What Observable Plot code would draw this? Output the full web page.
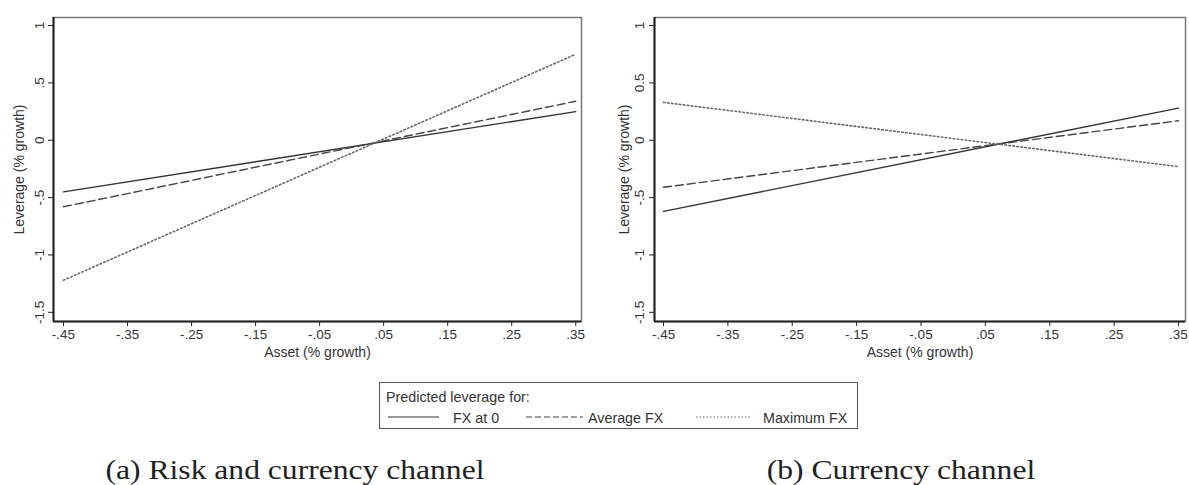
<!DOCTYPE html>
<html>
<head>
<meta charset="utf-8">
<script src="https://cdn.jsdelivr.net/npm/d3@7"></script>
<script src="https://cdn.jsdelivr.net/npm/@observablehq/plot@0.6"></script>
<style>
  html, body { margin: 0; padding: 0; background: #fff; }
  #wrap { position: relative; width: 1189px; height: 485px; overflow: hidden; font-family: "Liberation Sans", Arial, sans-serif; }
  .panel { position: absolute; top: 0; }
  .legend { position: absolute; left: 379px; top: 382px; width: 477px; height: 45px; border: 1px solid #555; box-sizing: content-box; font-size: 14.3px; color: #333; }
  .legend .item { position: absolute; top: 27px; line-height: 16px; }
  .legend svg { position: absolute; }
  .caption { position: absolute; top: 455px; font-family: "Liberation Serif", "Times New Roman", serif; font-size: 27px; color: #222; white-space: nowrap; text-align: center; transform: scaleX(1.17); transform-origin: 50% 50%; }
</style>
</head>
<body>
<div id="wrap"></div>
<script>
// ---- data ----
const assetX = [-0.45, 0.35];
const seriesNames = ["FX at 0", "Average FX", "Maximum FX"];
// Panel (a): Risk and currency channel
const panelA_fx0 = [-0.45, 0.25];
const panelA_avg = [-0.58, 0.34];
const panelA_max = [-1.22, 0.75];
// Panel (b): Currency channel
const panelB_fx0 = [-0.62, 0.28];
const panelB_avg = [-0.41, 0.17];
const panelB_max = [0.33, -0.23];

const xTicks = [-0.45, -0.35, -0.25, -0.15, -0.05, 0.05, 0.15, 0.25, 0.35];
const xTickLabels = ["-.45", "-.35", "-.25", "-.15", "-.05", ".05", ".15", ".25", ".35"];
const yTicks = [-1.5, -1, -0.5, 0, 0.5, 1];
const yTickLabelsA = ["-1.5", "-1", "-.5", "0", ".5", "1"];
const yTickLabelsB = ["-1.5", "-1", "-.5", "0", "0.5", "1"];
const captions = ["(a) Risk and currency channel", "(b) Currency channel"];

const styles = {
  "FX at 0": {stroke: "#333", strokeWidth: 1.4, dash: null, legDash: null},
  "Average FX": {stroke: "#444", strokeWidth: 1.4, dash: "8,4", legDash: "6,3"},
  "Maximum FX": {stroke: "#666", strokeWidth: 1.6, dash: "1.5,2.5", legDash: "1.5,2"}
};

function rows(vals) {
  const out = [];
  seriesNames.forEach((s, i) => {
    vals[i].forEach((v, j) => out.push({series: s, x: assetX[j], y: v}));
  });
  return out;
}

function panel({data, yLabels, width, marginLeft, marginRight, xDomain, yTickDx, yLabelDx}) {
  const yDomain = [-1.58, 1.07];
  const marks = [
    Plot.frame({stroke: "#777", strokeWidth: 1.5}),
    ...seriesNames.map(s => Plot.line(data.filter(d => d.series === s), {
      x: "x", y: "y", stroke: styles[s].stroke, strokeWidth: styles[s].strokeWidth,
      strokeDasharray: styles[s].dash
    })),
    Plot.ruleX([xDomain[0]], {stroke: "#222", strokeWidth: 2}),
    Plot.ruleY([yDomain[0]], {stroke: "#222", strokeWidth: 2}),
    Plot.axisX(xTicks, {tickSize: 5, tickPadding: 3, stroke: "#222", tickFormat: (d) => xTickLabels[xTicks.indexOf(d)], fontSize: 13.5, fill: "#333", label: null}),
    Plot.axisY(yTicks, {tickSize: 5, stroke: "#222", tickFormat: () => "", label: null}),
    Plot.text(yTicks, {y: d => d, text: (d) => yLabels[yTicks.indexOf(d)], frameAnchor: "left", dx: yTickDx, rotate: -90, textAnchor: "middle", fontSize: 13.5, fill: "#333"}),
    Plot.text(["Leverage (% growth)"], {frameAnchor: "left", dx: yLabelDx, rotate: -90, textAnchor: "middle", fontSize: 14, fill: "#333"}),
    Plot.text(["Asset (% growth)"], {frameAnchor: "bottom", dy: 35, textAnchor: "middle", fontSize: 14, fill: "#333"})
  ];
  return Plot.plot({
    width, height: 365,
    marginTop: 17, marginBottom: 44, marginLeft, marginRight,
    x: {domain: xDomain, axis: null},
    y: {domain: yDomain, axis: null},
    style: {fontFamily: "Liberation Sans, Arial, sans-serif", background: "transparent", overflow: "visible"},
    marks
  });
}

const wrap = document.getElementById("wrap");

const pA = panel({
  data: rows([panelA_fx0, panelA_avg, panelA_max]),
  yLabels: yTickLabelsA, width: 590, marginLeft: 53, marginRight: 9,
  xDomain: [-0.4656, 0.359], yTickDx: -14, yLabelDx: -34
});
const dA = document.createElement("div"); dA.className = "panel"; dA.style.left = "0px"; dA.appendChild(pA); wrap.appendChild(dA);

const pB = panel({
  data: rows([panelB_fx0, panelB_avg, panelB_max]),
  yLabels: yTickLabelsB, width: 599, marginLeft: 64, marginRight: 4,
  xDomain: [-0.464, 0.3609], yTickDx: -15, yLabelDx: -30
});
const dB = document.createElement("div"); dB.className = "panel"; dB.style.left = "590px"; dB.appendChild(pB); wrap.appendChild(dB);

// legend
const leg = document.createElement("div");
leg.className = "legend";
leg.innerHTML = `<div style="position:absolute;left:6px;top:6px;line-height:16px;">Predicted leverage for:</div>`;
const legPos = [
  {name: "FX at 0", lx: 8, lw: 51, tx: 73},
  {name: "Average FX", lx: 146, lw: 57, tx: 208},
  {name: "Maximum FX", lx: 316, lw: 55, tx: 383}
];
legPos.forEach(p => {
  const st = styles[p.name];
  leg.innerHTML += `<svg style="left:${p.lx}px;top:31px" width="${p.lw}" height="6"><line x1="0" y1="3" x2="${p.lw}" y2="3" stroke="${st.stroke}" stroke-width="1" ${st.legDash ? `stroke-dasharray="${st.legDash}"` : ""}/></svg>` +
    `<div class="item" style="left:${p.tx}px">${p.name}</div>`;
});
wrap.appendChild(leg);

// captions
[[295, captions[0]], [901, captions[1]]].forEach(([cx, t]) => {
  const c = document.createElement("div");
  c.className = "caption";
  c.style.left = (cx - 250) + "px";
  c.style.width = "500px";
  c.textContent = t;
  wrap.appendChild(c);
});
</script>
</body>
</html>
